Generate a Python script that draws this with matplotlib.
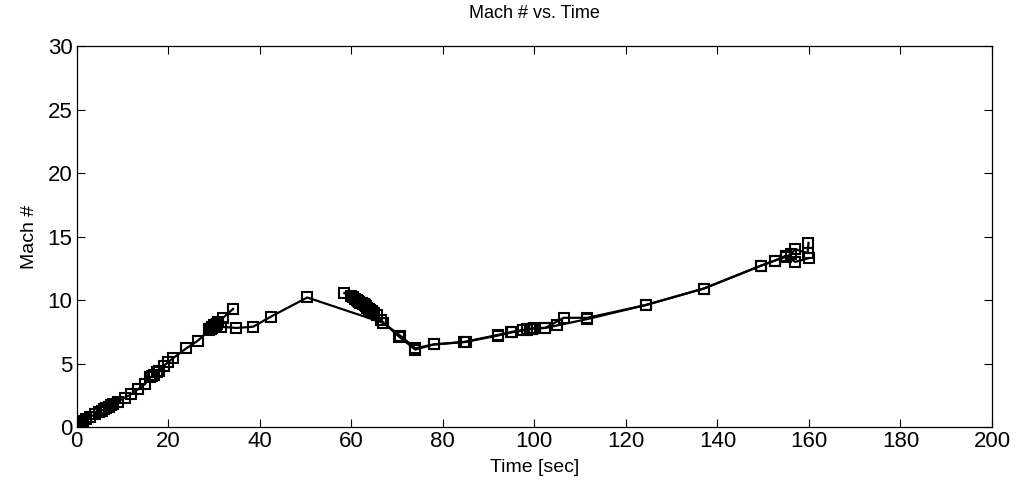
import numpy as np
import matplotlib
matplotlib.use("Agg")
import matplotlib.pyplot as plt

# data (three overlapping flight segments)
time_a = [0.0, 0.2, 0.4, 0.6, 1.0, 1.5, 2.0, 3.0, 4.0, 5.0, 5.5, 6.0, 6.5, 7.0, 7.5, 8.0,
          9.0, 10.5, 12.0, 13.5, 15.0, 16.0, 16.5, 17.0, 17.5, 18.0, 19.0, 20.0, 21.0,
          24.0, 26.5, 29.0, 29.3, 29.6, 30.0, 30.3, 30.6, 31.0, 32.0, 34.2]
mach_a = [0.0, 0.05, 0.1, 0.2, 0.35, 0.5, 0.6, 0.8, 1.0, 1.2, 1.3, 1.4, 1.5, 1.6, 1.7, 1.8,
          2.0, 2.3, 2.6, 3.0, 3.4, 3.9, 4.0, 4.1, 4.3, 4.45, 4.8, 5.1, 5.4,
          6.2, 6.8, 7.6, 7.7, 7.8, 8.0, 8.05, 8.1, 8.3, 8.6, 9.3]

time_b = [29.0, 29.5, 30.5, 31.5, 34.9, 38.6, 42.5, 50.4, 67.0, 70.7, 74.0, 78.0,
          84.7, 92.0, 95.2, 98.5, 99.5, 102.4, 105.0, 111.6, 124.3, 137.0, 149.5,
          152.5, 155.0, 157.0, 160.0]
mach_b = [7.7, 7.9, 8.0, 7.9, 7.8, 7.9, 8.7, 10.2, 8.2, 7.2, 6.2, 6.5,
          6.7, 7.25, 7.5, 7.7, 7.75, 7.8, 8.0, 8.5, 9.6, 10.9, 12.7,
          13.1, 13.5, 13.0, 13.3]

time_c = [58.5, 60.0, 60.4, 60.8, 61.2, 61.5, 61.8, 62.0, 62.3, 62.5, 62.8, 63.0, 63.3,
          63.5, 63.8, 64.0, 64.5, 65.0, 65.7, 66.5, 70.5, 74.0, 78.0, 85.0, 92.0, 95.0,
          97.6, 98.3, 99.0, 99.5, 100.0, 102.4, 106.4, 111.6, 124.3, 137.0, 149.5,
          152.5, 155.0, 156.0, 157.0, 159.7, 159.9]
mach_c = [10.55, 10.3, 10.2, 10.1, 10.0, 9.9, 9.85, 9.8, 9.75, 9.7, 9.65, 9.6, 9.5,
          9.4, 9.3, 9.2, 9.1, 9.0, 8.8, 8.4, 7.1, 6.1, 6.5, 6.7, 7.2, 7.45,
          7.6, 7.65, 7.7, 7.75, 7.8, 7.8, 8.6, 8.6, 9.6, 10.9, 12.7,
          13.1, 13.4, 13.6, 14.0, 13.7, 14.5]

xticks = [0, 20, 40, 60, 80, 100, 120, 140, 160, 180, 200]
yticks = [0, 5, 10, 15, 20, 25, 30]

plt.rcParams['font.family'] = ['Liberation Sans', 'DejaVu Sans']

fig = plt.figure(figsize=(10.18, 4.91), dpi=100)
ax = fig.add_axes([0.0752, 0.1303, 0.8993, 0.776])

for t, m in [(time_a, mach_a), (time_b, mach_b), (time_c, mach_c)]:
    ax.plot(t, m, color='black', lw=1.6, marker='s', markersize=7.5,
            markerfacecolor='none', markeredgecolor='black', markeredgewidth=1.5)

ax.set_xlim(0, 200)
ax.set_ylim(0, 30)
ax.set_xticks(xticks)
ax.set_yticks(yticks)
ax.tick_params(direction='in', top=True, right=True, length=6, labelsize=16, width=0.8, pad=3)
for s in ax.spines.values():
    s.set_linewidth(0.9)

ax.set_xlabel('Time [sec]', fontsize=14, labelpad=5)
ax.set_ylabel('Mach #', fontsize=14, labelpad=7)
ax.set_title('Mach # vs. Time', fontsize=13, pad=20)

fig.savefig('out.png', dpi=100)
